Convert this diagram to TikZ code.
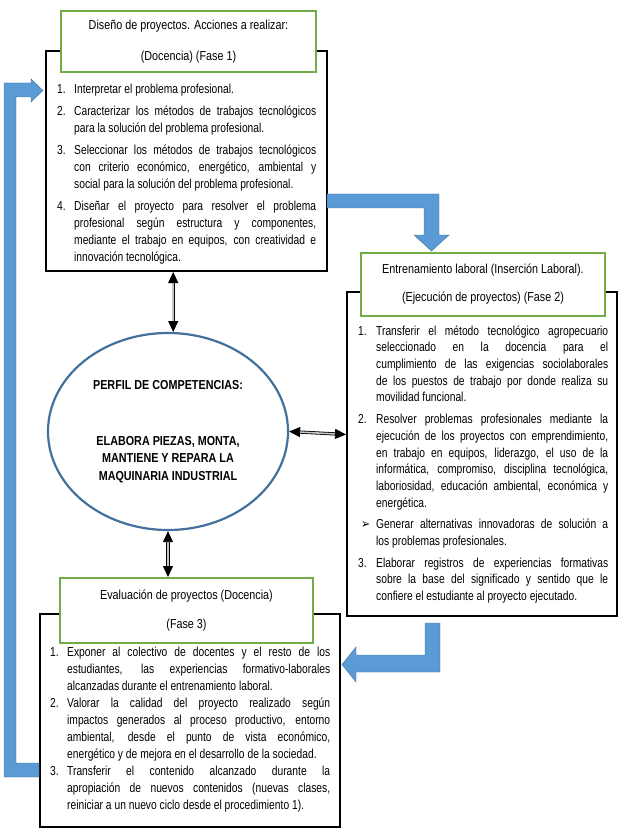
\documentclass[tikz,border=0pt]{standalone}
\usepackage{fontspec}
\setmainfont{Liberation Sans}[FakeStretch=0.83]
\newfontfamily\cuerpofont{Liberation Sans}[FakeStretch=0.79]
\newfontfamily\vinetafont{DejaVu Sans}[FakeStretch=0.83]
\usetikzlibrary{arrows.meta,shapes.geometric}

\definecolor{verdecaja}{RGB}{112,173,71}
\definecolor{azulflecha}{RGB}{91,155,213}
\definecolor{bordeazul}{RGB}{65,113,156}

\newcommand{\paso}[3]{\hangindent=#1\hangafter=1\noindent\makebox[#1][l]{\strut#2}#3\par}
\newcommand{\ajustes}[1]{\hyphenpenalty=10000 \tolerance=10000 \parskip=#1\relax}

\tikzset{
  caja/.style={draw=black, line width=2pt, inner sep=0pt},
  titulo/.style={draw=verdecaja, line width=2pt, fill=white, inner sep=0pt,
    align=center, font=\fontsize{13}{17}\selectfont},
  texto/.style={inner sep=0pt, anchor=north west,
    font=\cuerpofont\fontsize{13}{17}\selectfont},
  dobleflecha/.style={double=gray!45, double distance=1.6pt, line width=0.8pt,
    {Triangle[length=11pt,width=10pt]}-{Triangle[length=11pt,width=10pt]}},
  bloque/.style={fill=azulflecha, draw=bordeazul, line width=0.4pt}
}

\begin{document}
\begin{tikzpicture}[x=1pt,y=-1pt]
    \useasboundingbox (0,0) rectangle (624,834);

    \node[caja, minimum width=281pt, minimum height=220pt] (fase1) at (186.5,161) {};
    \node[caja, minimum width=270pt, minimum height=324pt] (fase2) at (482,454) {};
    \node[caja, minimum width=300pt, minimum height=213pt] (fase3) at (190,720.5) {};

    \node[titulo, minimum width=255pt, minimum height=61pt] (titulo1) at (188.5,41.5)
        {Diseño de proyectos. Acciones a realizar:\\[14pt](Docencia) (Fase 1)};
    \node[titulo, minimum width=244pt, minimum height=63pt] (titulo2) at (483,284.5)
        {Entrenamiento laboral (Inserción Laboral).\\[11pt](Ejecución de proyectos) (Fase 2)};
    \node[titulo, minimum width=253pt, minimum height=65pt] (titulo3) at (186.5,610.5)
        {Evaluación de proyectos (Docencia)\\[12pt](Fase 3)};

    \node[texto] (pasos1) at (57,81.6) {\begin{minipage}[t]{259pt}\ajustes{5pt}%
        \paso{17pt}{1.}{Interpretar el problema profesional.}
        \paso{17pt}{2.}{Caracterizar los métodos de trabajos tecnológicos\linebreak
            para la solución del problema profesional.}
        \paso{17pt}{3.}{Seleccionar los métodos de trabajos tecnológicos\linebreak
            con criterio económico, energético, ambiental y\linebreak
            social para la solución del problema profesional.}
        \paso{17pt}{4.}{Diseñar el proyecto para resolver el problema\linebreak
            profesional según estructura y componentes,\linebreak
            mediante el trabajo en equipos, con creatividad e\linebreak
            innovación tecnológica.}
        \end{minipage}};

    \node[texto] (pasos2) at (358,323) {\begin{minipage}[t]{250pt}\ajustes{5pt}\baselineskip=16.7pt\relax
        \paso{18pt}{1.}{Transferir el método tecnológico agropecuario\linebreak
            seleccionado en la docencia para el\linebreak
            cumplimiento de las exigencias sociolaborales\linebreak
            de los puestos de trabajo por donde realiza su\linebreak
            movilidad funcional.}
        \paso{18pt}{2.}{Resolver problemas profesionales mediante la\linebreak
            ejecución de los proyectos con emprendimiento,\linebreak
            en trabajo en equipos, liderazgo, el uso de la\linebreak
            informática, compromiso, disciplina tecnológica,\linebreak
            laboriosidad, educación ambiental, económica y\linebreak
            energética.}
        \paso{18pt}{\hspace{3pt}{\vinetafont ➢}}{Generar alternativas innovadoras de solución a\linebreak
            los problemas profesionales.}
        \paso{18pt}{3.}{Elaborar registros de experiencias formativas\linebreak
            sobre la base del significado y sentido que le\linebreak
            confiere el estudiante al proyecto ejecutado.}
        \end{minipage}};

    \node[texto] (pasos3) at (50,644) {\begin{minipage}[t]{280pt}\ajustes{0pt}%
        \paso{17pt}{1.}{Exponer al colectivo de docentes y el resto de los\linebreak
            estudiantes, las experiencias formativo-laborales\linebreak
            alcanzadas durante el entrenamiento laboral.}
        \paso{17pt}{2.}{Valorar la calidad del proyecto realizado según\linebreak
            impactos generados al proceso productivo, entorno\linebreak
            ambiental, desde el punto de vista económico,\linebreak
            energético y de mejora en el desarrollo de la sociedad.}
        \paso{17pt}{3.}{Transferir el contenido alcanzado durante la\linebreak
            apropiación de nuevos contenidos (nuevas clases,\linebreak
            \rule{0pt}{13.5pt}reiniciar a un nuevo ciclo desde el procedimiento 1).}
        \end{minipage}};

    \node[ellipse, draw=bordeazul, line width=2.2pt, fill=white, inner sep=0pt,
        minimum width=240pt, minimum height=197pt, align=center,
        font=\fontsize{13}{17.5}\selectfont\bfseries] (perfil) at (168,431.5)
        {PERFIL DE COMPETENCIAS:\\[38pt]ELABORA PIEZAS, MONTA,\\MANTIENE Y REPARA LA\\MAQUINARIA INDUSTRIAL};

    \draw[dobleflecha] (fase1.south -| perfil.87) -- (perfil.87);
    \draw[dobleflecha] (perfil.south) -- (perfil.south |- titulo3.north);
    \draw[dobleflecha] (perfil.east) -- ([yshift=-3pt]perfil.east -| fase2.west);

    \fill[bloque] (39,777) -- (4,777) -- (4,83) -- (31,83) -- (31,79) -- (43,90.5)
        -- (31,102) -- (31,97) -- (16,97) -- (16,763) -- (39,763) -- cycle;
    \fill[bloque] (327,194) -- (439,194) -- (439,235) -- (449,235) -- (431.5,251)
        -- (414,235) -- (424,235) -- (424,208) -- (327,208) -- cycle;
    \fill[bloque] (425,623) -- (440,623) -- (440,672) -- (356,672) -- (356,682)
        -- (342,664.5) -- (356,647) -- (356,655) -- (425,655) -- cycle;
\end{tikzpicture}
\end{document}
